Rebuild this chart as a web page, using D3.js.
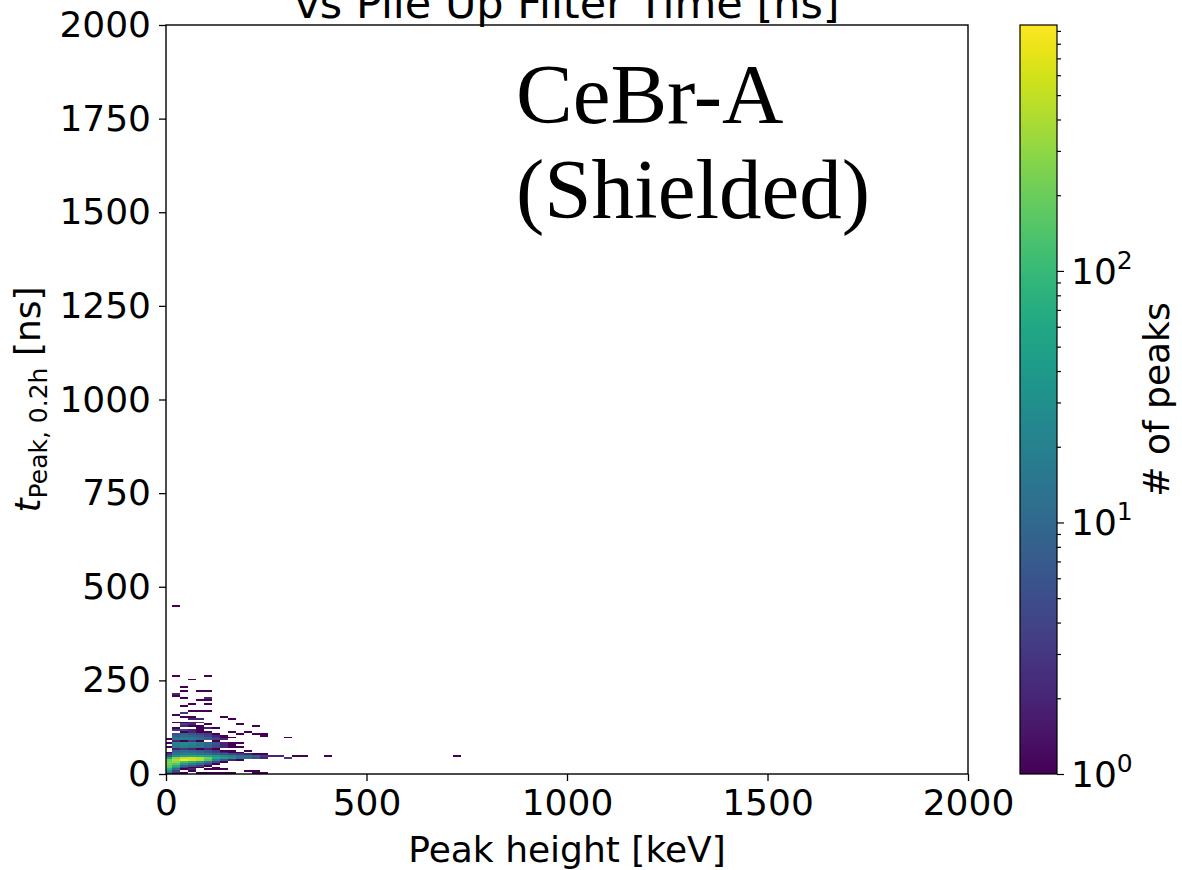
<!DOCTYPE html>
<html><head><meta charset="utf-8">
<script src="https://cdn.jsdelivr.net/npm/d3@7"></script>
<style>body{margin:0;background:#fff} svg{display:block}</style>
</head><body>
<svg id="chart" width="1182" height="870"></svg>
<script>
// ---- data ----
const xBinStart = -5;      // keV, first bin edge
const xBinWidth = 20;      // keV
const tBinHeight = 5;      // ns
// dense block: rows are lower ns edges, columns are bin indices 0..12
const denseRowsT = [125,120,115,110,105,100,95,90,85,80,75,70,65,60,55,50,45,40,35,30,25,20,15,10,5,0];
const denseCounts = [
  [0,0,2,1,1,0,0,0,0,0,0,0,0],
  [0,1,0,0,1,2,1,0,0,0,0,0,0],
  [0,3,4,2,1,0,0,0,0,0,0,0,0],
  [0,0,1,2,1,1,0,0,1,0,1,0,0],
  [0,5,8,6,4,3,1,0,0,1,0,1,0],
  [0,8,11,9,7,4,2,1,0,0,0,0,1],
  [0,12,16,14,9,6,3,1,1,0,0,0,0],
  [1,14,19,17,12,7,4,2,0,0,0,0,0],
  [0,2,1,3,1,0,1,0,0,0,0,0,0],
  [1,18,25,22,15,10,5,2,1,1,0,0,0],
  [0,17,24,19,13,9,5,2,1,0,0,0,0],
  [1,15,19,16,12,8,4,2,1,1,0,0,0],
  [0,2,3,2,1,2,1,0,0,0,0,0,0],
  [0,8,10,9,7,5,3,1,1,0,1,0,0],
  [1,10,12,11,9,6,4,2,1,1,0,0,0],
  [3,14,18,17,14,11,8,6,4,3,2,1,1],
  [6,30,55,60,60,50,38,26,20,12,10,8,3],
  [60,260,520,600,460,210,65,42,30,14,10,5,2],
  [200,420,950,650,450,150,22,6,2,1,0,0,0],
  [250,300,120,80,40,15,4,1,0,0,0,0,0],
  [220,150,40,20,10,4,1,0,0,0,0,0,0],
  [180,80,10,6,3,1,0,0,0,0,0,0,0],
  [150,30,3,1,1,0,1,0,0,0,0,0,0],
  [80,10,1,2,0,1,1,1,0,0,0,0,0],
  [30,4,0,1,0,0,0,0,0,0,1,1,0],
  [10,2,1,0,1,1,1,1,1,0,0,1,1]
];
// sparse cells: [keV lower edge, ns lower edge, count]
const sparseCells = [
  [255,45,2],[275,45,2],[295,40,3],[315,45,1],[335,45,1],[395,45,1],[715,45,1],
  [295,95,1],[215,125,1],[235,105,1],
  [15,445,1],
  [15,260,1],[95,260,1],[55,250,1],[35,230,1],
  [35,220,1],[75,220,1],[95,220,1],
  [15,210,2],[15,205,1],[35,200,1],[95,200,2],
  [75,195,1],[95,195,1],[55,185,1],[95,185,1],[35,180,1],
  [55,165,1],[75,165,1],[95,165,1],[35,160,3],[15,155,1],
  [35,150,1],[55,150,1],[135,150,1],
  [55,145,2],[75,145,2],[155,145,1],
  [15,135,1],[35,135,1],[55,135,2],[75,135,2],
  [35,130,4],[55,130,2],[95,130,1],[175,130,1]
];
const xTicks = [0,500,1000,1500,2000];
const yTicks = [0,250,500,750,1000,1250,1500,1750,2000];
const cbarMajor = [1,10,100];
const titleText = "vs Pile Up Filter Time [ns]";
const annotLines = ["CeBr-A", "(Shielded)"];

// ---- build cells ----
const cells = [];
denseRowsT.forEach((t, r) => {
  denseCounts[r].forEach((n, k) => {
    if (n > 0) cells.push({x0: xBinStart + k * xBinWidth, t0: t, n});
  });
});
sparseCells.forEach(([x0, t0, n]) => cells.push({x0, t0, n}));

// ---- layout ----
const svg = d3.select("#chart");
const L = 166, R = 968, T = 25, B = 774;
const x = d3.scaleLinear().domain([0, 2000]).range([L, R]);
const y = d3.scaleLinear().domain([0, 2000]).range([B, T]);
const vmax = d3.max(cells, d => d.n);
const color = d3.scaleSequentialLog(d3.interpolateViridis).domain([1, vmax]);
const FONT = "DejaVu Sans, sans-serif";
const FS = 36;

svg.append("defs").append("clipPath").attr("id", "plotclip")
  .append("rect").attr("x", L).attr("y", T).attr("width", R - L).attr("height", B - T);

svg.append("g").attr("clip-path", "url(#plotclip)")
  .selectAll("rect").data(cells).join("rect")
  .attr("x", d => x(d.x0))
  .attr("width", d => x(d.x0 + xBinWidth) - x(d.x0))
  .attr("y", d => y(d.t0 + tBinHeight))
  .attr("height", d => y(d.t0) - y(d.t0 + tBinHeight))
  .attr("fill", d => color(d.n))
  .attr("shape-rendering", "crispEdges");

// axes
const xAxis = svg.append("g").attr("transform", `translate(0,${B})`)
  .call(d3.axisBottom(x).tickValues(xTicks).tickFormat(d3.format("d")).tickSize(7).tickPadding(8));
const yAxis = svg.append("g").attr("transform", `translate(${L},0)`)
  .call(d3.axisLeft(y).tickValues(yTicks).tickFormat(d3.format("d")).tickSize(7).tickPadding(8));
[xAxis, yAxis].forEach(g => {
  g.select(".domain").remove();
  g.selectAll(".tick line").attr("stroke", "#000").attr("stroke-width", 1.3);
  g.selectAll(".tick text").attr("font-family", FONT).attr("font-size", FS).attr("fill", "#000");
});

// frame
svg.append("rect").attr("x", L).attr("y", T).attr("width", R - L).attr("height", B - T)
  .attr("fill", "none").attr("stroke", "#000").attr("stroke-width", 1.4);

// axis labels
svg.append("text").attr("x", (L + R) / 2).attr("y", 862).attr("text-anchor", "middle")
  .attr("font-family", FONT).attr("font-size", FS).text("Peak height [keV]");

const yl = svg.append("text").attr("transform", `translate(40,${(T + B) / 2}) rotate(-90)`)
  .attr("text-anchor", "middle").attr("font-family", FONT).attr("font-size", FS);
yl.append("tspan").attr("font-style", "italic").text("t");
yl.append("tspan").attr("font-size", 25).attr("dy", 7).text("Peak, 0.2h");
yl.append("tspan").attr("dy", -7).text(" [ns]");

// title (partially cut off at the top, as in the reference)
svg.append("text").attr("x", (L + R) / 2).attr("y", 18).attr("text-anchor", "middle")
  .attr("font-family", FONT).attr("font-size", 43).text(titleText);

// annotation
const ann = svg.append("text").attr("font-family", "Liberation Serif, Times New Roman, serif")
  .attr("font-size", 85).attr("fill", "#000");
ann.append("tspan").attr("x", 516).attr("y", 123).text(annotLines[0]);
ann.append("tspan").attr("x", 516).attr("y", 218).text(annotLines[1]);

// colorbar
const CL = 1020, CR = 1057;
const cy = d3.scaleLog().domain([1, vmax]).range([B, T]);
const grad = svg.select("defs").append("linearGradient").attr("id", "cbgrad")
  .attr("x1", 0).attr("y1", 1).attr("x2", 0).attr("y2", 0);
d3.range(0, 1.0001, 0.02).forEach(f => {
  grad.append("stop").attr("offset", f).attr("stop-color", d3.interpolateViridis(f));
});
svg.append("rect").attr("x", CL).attr("y", T).attr("width", CR - CL).attr("height", B - T)
  .attr("fill", "url(#cbgrad)").attr("stroke", "#000").attr("stroke-width", 1.2);

const minor = [];
[1, 10, 100].forEach(dec => d3.range(2, 10).forEach(m => { if (dec * m <= vmax) minor.push(dec * m); }));
const cAxisMinor = svg.append("g").attr("transform", `translate(${CR},0)`)
  .call(d3.axisRight(cy).tickValues(minor).tickFormat("").tickSize(4));
const cAxisMajor = svg.append("g").attr("transform", `translate(${CR},0)`)
  .call(d3.axisRight(cy).tickValues(cbarMajor).tickFormat("").tickSize(7));
[cAxisMinor, cAxisMajor].forEach(g => {
  g.select(".domain").remove();
  g.selectAll(".tick line").attr("stroke", "#000").attr("stroke-width", 1.2);
});
cbarMajor.forEach(v => {
  const t = svg.append("text").attr("x", CR + 14).attr("y", cy(v) + 13)
    .attr("font-family", FONT).attr("font-size", FS);
  t.append("tspan").text("10");
  t.append("tspan").attr("font-size", 25).attr("dy", -15).text(String(Math.round(Math.log10(v))));
});
svg.append("text").attr("transform", `translate(1169,${(T + B) / 2}) rotate(-90)`)
  .attr("text-anchor", "middle").attr("font-family", FONT).attr("font-size", FS).text("# of peaks");
</script>
</body></html>
